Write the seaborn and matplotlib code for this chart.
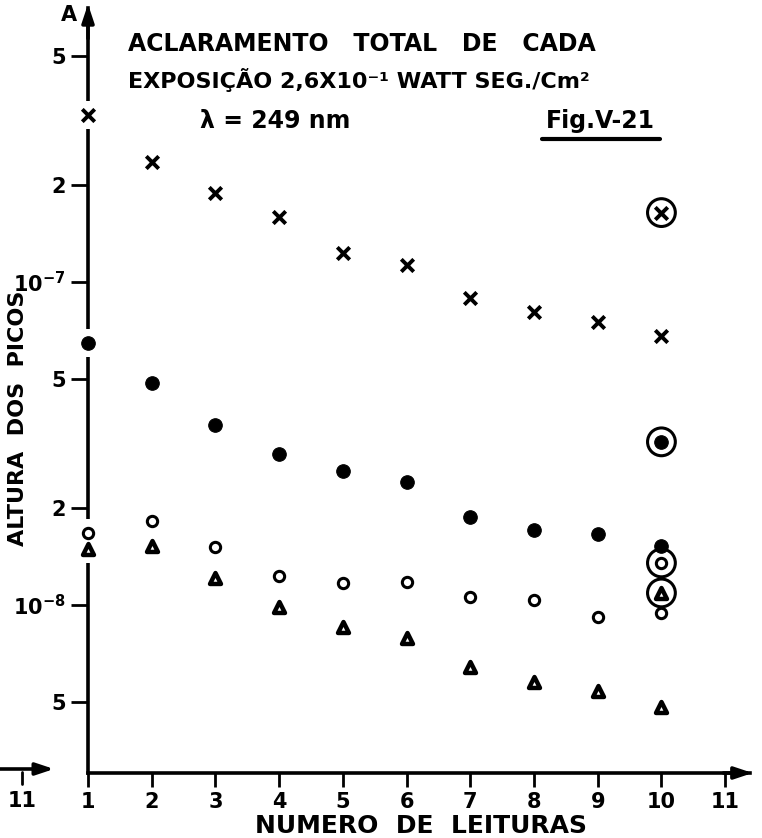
import matplotlib
matplotlib.use("Agg")
import matplotlib.pyplot as plt
from matplotlib.lines import Line2D
from matplotlib.ticker import FixedLocator, FixedFormatter, NullLocator
import seaborn as sns

# leituras 1..10, altura dos picos (escala log)
leituras = [1, 2, 3, 4, 5, 6, 7, 8, 9, 10]
cruzes = [3.29e-7, 2.35e-7, 1.89e-7, 1.59e-7, 1.23e-7, 1.13e-7, 8.9e-8, 8.1e-8, 7.5e-8, 6.8e-8]
circ_cheios = [6.47e-8, 4.87e-8, 3.61e-8, 2.93e-8, 2.60e-8, 2.40e-8, 1.87e-8, 1.71e-8, 1.66e-8, 1.52e-8]
circ_abertos = [1.67e-8, 1.82e-8, 1.51e-8, 1.23e-8, 1.17e-8, 1.18e-8, 1.06e-8, 1.04e-8, 9.2e-9, 9.45e-9]
triangulos = [1.49e-8, 1.52e-8, 1.21e-8, 9.86e-9, 8.55e-9, 7.91e-9, 6.43e-9, 5.78e-9, 5.42e-9, 4.83e-9]

# pontos circulados (aclaramento total) na leitura 10
leitura_total = [10]
cruz_total = [1.64e-7]
cheio_total = [3.20e-8]
aberto_total = [1.35e-8]
triang_total = [1.09e-8]

x_ticks = [1, 2, 3, 4, 5, 6, 7, 8, 9, 10, 11]
x_labels = ["1", "2", "3", "4", "5", "6", "7", "8", "9", "10", "11"]
y_ticks = [5e-9, 1e-8, 2e-8, 5e-8, 1e-7, 2e-7, 5e-7]
y_labels = ["5", r"$\mathbf{10^{-8}}$", "2", "5", r"$\mathbf{10^{-7}}$", "2", "5"]

ESTILOS = {
    "cruz": dict(marker="x", s=80, linewidth=2.8, color="black"),
    "cheio": dict(marker="o", s=95, color="black", edgecolor="black"),
    "aberto": dict(marker="o", s=55, facecolor="white", edgecolor="black", linewidth=2.2),
    "triang": dict(marker="^", s=62, facecolor="white", edgecolor="black", linewidth=3.2),
}

sns.set_theme(style="white")
plt.rcParams["font.family"] = ["DejaVu Sans"]
plt.rcParams["font.weight"] = "bold"
for chave in ("text.color", "axes.labelcolor", "xtick.color", "ytick.color"):
    plt.rcParams[chave] = "black"

fig = plt.figure(figsize=(7.62, 8.38), dpi=100)
ax = fig.add_axes([88 / 762, 1 - 773 / 838, 662 / 762, 765 / 838])
ax.set_yscale("log")


def pontos(x, y, estilo, z=4):
    sns.scatterplot(x=x, y=y, ax=ax, clip_on=False, zorder=z, legend=False,
                    **ESTILOS[estilo])


# fundo branco onde os pontos da leitura 1 cortam o eixo
for serie in (cruzes, circ_cheios, circ_abertos, triangulos):
    sns.scatterplot(x=leituras[:1], y=serie[:1], ax=ax, marker="s", s=330,
                    color="white", edgecolor="white", clip_on=False, zorder=3,
                    legend=False)

pontos(leituras, cruzes, "cruz")
pontos(leituras, circ_cheios, "cheio")
pontos(leituras, circ_abertos, "aberto")
pontos(leituras, triangulos, "triang")

pontos(leitura_total, cruz_total, "cruz")
pontos(leitura_total, cheio_total, "cheio")
pontos(leitura_total, aberto_total, "aberto")
pontos(leitura_total, triang_total, "triang")
for val in (cruz_total, cheio_total, aberto_total, triang_total):
    sns.scatterplot(x=leitura_total, y=val, ax=ax, marker="o", s=400,
                    facecolor="none", edgecolor="black", linewidth=2.2,
                    clip_on=False, zorder=4, legend=False)

ax.set_xlim(1, 11.39)
ax.set_ylim(3.02e-9, 7.05e-7)
ax.xaxis.set_major_locator(FixedLocator(x_ticks))
ax.xaxis.set_major_formatter(FixedFormatter(x_labels))
ax.yaxis.set_major_locator(FixedLocator(y_ticks))
ax.yaxis.set_major_formatter(FixedFormatter(y_labels))
ax.yaxis.set_minor_locator(NullLocator())
ax.tick_params(axis="y", direction="out", length=12, width=2, pad=4,
               labelsize=15, left=True)
ax.tick_params(axis="x", direction="out", length=10, width=2, pad=4,
               labelsize=15, bottom=True)
for lbl in ax.get_xticklabels() + ax.get_yticklabels():
    lbl.set_fontweight("bold")

for lado in ("top", "right"):
    ax.spines[lado].set_visible(False)
for lado in ("left", "bottom"):
    ax.spines[lado].set_linewidth(2.6)
    ax.spines[lado].set_color("black")
ax.set_facecolor("white")

# setas dos eixos
seta = dict(arrowstyle="-|>,head_length=0.9,head_width=0.3", color="black",
            lw=2.6, shrinkA=0, shrinkB=0)
ax.annotate("", xy=(0, 1.005), xytext=(0, 0.96), xycoords="axes fraction",
            arrowprops=seta, annotation_clip=False)
ax.annotate("", xy=(1.004, 0), xytext=(0.96, 0), xycoords="axes fraction",
            arrowprops=seta, annotation_clip=False)

# resto do grafico anterior a esquerda
ax.annotate("", xy=(54 / 762, 1 - 769 / 838), xytext=(0, 1 - 769 / 838),
            xycoords="figure fraction", arrowprops=seta)
fig.add_artist(Line2D([22 / 762, 22 / 762], [1 - 772 / 838, 1 - 784 / 838],
                      color="black", lw=2))
fig.text(22 / 762, 1 - 801 / 838, "11", ha="center", va="center",
         fontsize=15, fontweight="bold")

ax.set_xlabel("")
ax.set_ylabel("")
fig.text(18 / 762, 1 - 418 / 838, "ALTURA  DOS  PICOS", rotation=90,
         ha="center", va="center", fontsize=16, fontweight="bold")
fig.text(421 / 762, 1 - 826 / 838, "NUMERO  DE  LEITURAS", ha="center",
         va="center", fontsize=18, fontweight="bold")
fig.text(69 / 762, 1 - 15 / 838, "A", ha="center", va="center",
         fontsize=15, fontweight="bold")

fig.text(128 / 762, 1 - 44 / 838, "ACLARAMENTO   TOTAL   DE   CADA", ha="left",
         va="center", fontsize=17, fontweight="bold")
fig.text(128 / 762, 1 - 80 / 838, "EXPOSIÇÃO 2,6X10⁻¹ WATT SEG./Cm²",
         ha="left", va="center", fontsize=16, fontweight="bold")
fig.text(200 / 762, 1 - 121 / 838, "λ = 249 nm", ha="left", va="center",
         fontsize=17, fontweight="bold")
fig.text(600 / 762, 1 - 121 / 838, "Fig.V-21", ha="center", va="center",
         fontsize=17, fontweight="bold")
fig.add_artist(Line2D([542 / 762, 660 / 762], [1 - 139 / 838, 1 - 139 / 838],
                      color="black", lw=3))

fig.savefig("out.png", dpi=100)
